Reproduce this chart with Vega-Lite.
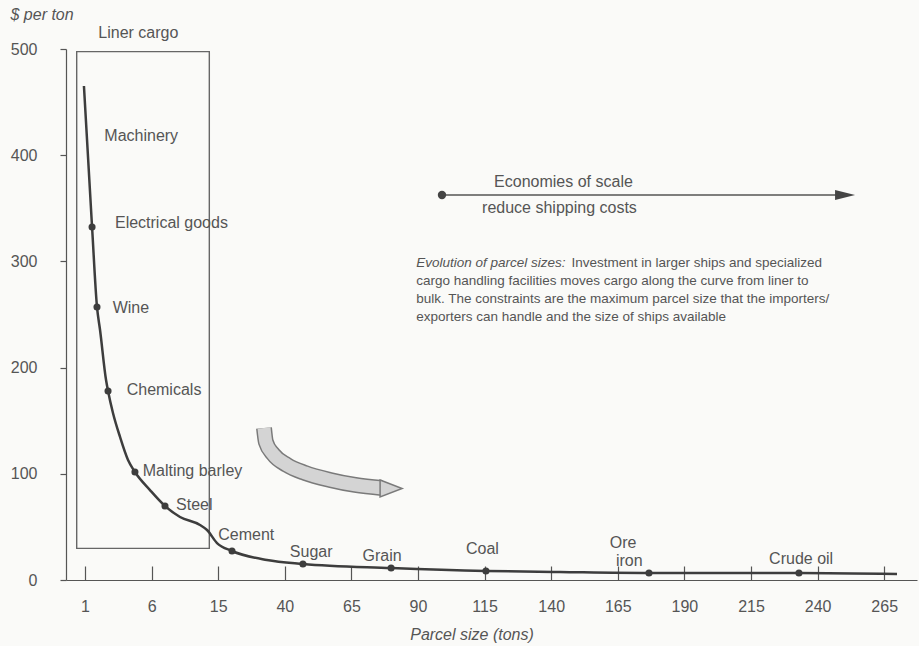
{
  "$schema": "https://vega.github.io/schema/vega-lite/v6.json",
  "width": 851,
  "height": 531,
  "autosize": {"type": "none"},
  "padding": {"left": 66, "top": 49, "right": 2, "bottom": 66},
  "background": "#fafaf8",
  "config": {"view": {"stroke": null}, "font": "Liberation Sans"},
  "datasets": {
    "curve": [
      {"x": 0.92, "y": 465.2}, {"x": 1.53, "y": 332.4}, {"x": 1.90, "y": 257.1}, {"x": 2.13, "y": 235.4},
      {"x": 2.58, "y": 188.3}, {"x": 2.73, "y": 178.0}, {"x": 3.10, "y": 157.3}, {"x": 3.63, "y": 134.7},
      {"x": 4.23, "y": 113.0}, {"x": 4.75, "y": 101.7}, {"x": 5.88, "y": 84.7}, {"x": 7.81, "y": 69.7},
      {"x": 9.84, "y": 59.3}, {"x": 12.54, "y": 51.8}, {"x": 13.49, "y": 47.1}, {"x": 14.84, "y": 34.8},
      {"x": 20.18, "y": 27.3}, {"x": 33.3, "y": 18.8}, {"x": 46.8, "y": 15.1}, {"x": 79.9, "y": 11.3},
      {"x": 115.5, "y": 8.5}, {"x": 143.3, "y": 7.5}, {"x": 176.7, "y": 6.6}, {"x": 233.0, "y": 6.6},
      {"x": 269.8, "y": 5.6}
    ],
    "dots": [
      {"x": 1.53, "y": 332.4}, {"x": 1.90, "y": 257.1}, {"x": 2.73, "y": 178.0}, {"x": 4.75, "y": 101.7},
      {"x": 7.81, "y": 69.7}, {"x": 20.18, "y": 27.3}, {"x": 46.8, "y": 15.1}, {"x": 79.9, "y": 11.3},
      {"x": 115.5, "y": 8.5}, {"x": 176.7, "y": 6.6}, {"x": 233.0, "y": 6.6}
    ],
    "labels": [
      {"x": 2.0, "y": 514.8, "label": "Liner cargo"},
      {"x": 2.45, "y": 418.0, "label": "Machinery"},
      {"x": 3.25, "y": 336.4, "label": "Electrical goods"},
      {"x": 3.08, "y": 256.4, "label": "Wine"},
      {"x": 4.13, "y": 178.9, "label": "Chemicals"},
      {"x": 5.33, "y": 102.9, "label": "Malting barley"},
      {"x": 9.3, "y": 70.6, "label": "Steel"},
      {"x": 15.0, "y": 42.4, "label": "Cement"},
      {"x": 41.9, "y": 26.6, "label": "Sugar"},
      {"x": 69.2, "y": 22.6, "label": "Grain"},
      {"x": 108.0, "y": 29.2, "label": "Coal"},
      {"x": 162.0, "y": 34.8, "label": "Ore"},
      {"x": 164.3, "y": 17.9, "label": "iron"},
      {"x": 221.8, "y": 19.8, "label": "Crude oil"}
    ],
    "box": [{"x": 0.375, "x2": 13.8, "y": 29.8, "y2": 497.5}],
    "econLine": [{"x": 99.0, "x2": 250.3, "y": 362.5}],
    "econDot": [{"x": 99.0, "y": 362.5}],
    "econHead": [{"x": 250.3, "y": 362.5}],
    "econText": [
      {"x": 144.6, "y": 375.0, "label": "Economies of scale"},
      {"x": 143.1, "y": 350.3, "label": "reduce shipping costs"}
    ],
    "paraItalic": [{"x": 89.3, "y": 298.5, "label": "Evolution of parcel sizes:"}],
    "paraRegular": [
      {"x": 147.6, "y": 298.5, "label": "Investment in larger ships and specialized"},
      {"x": 89.3, "y": 281.5, "label": "cargo handling facilities moves cargo along the curve from liner to"},
      {"x": 89.3, "y": 264.6, "label": "bulk.  The constraints are the maximum parcel size that the importers/"},
      {"x": 89.3, "y": 247.6, "label": "exporters can handle and the size of ships available"}
    ],
    "bend": [
      {"x": 32.2, "y": 143.1}, {"x": 32.9, "y": 129.9}, {"x": 35.6, "y": 118.6}, {"x": 40.8, "y": 108.3},
      {"x": 47.6, "y": 100.8}, {"x": 57.0, "y": 94.2}, {"x": 66.4, "y": 89.5}, {"x": 76.5, "y": 86.6}
    ],
    "bendHead": [{"x": 79.9, "y": 86.2}]
  },
  "encoding": {
    "x": {
      "field": "x",
      "type": "quantitative",
      "scale": {
        "domain": [-0.43, 1, 6, 15, 40, 65, 90, 115, 140, 165, 190, 215, 240, 265, 277.3],
        "range": [0, 19, 85.6, 152.2, 218.8, 285.4, 352, 418.6, 485.2, 551.8, 618.4, 685, 751.6, 818.2, 851],
        "nice": false,
        "zero": false
      },
      "axis": {
        "values": [1, 6, 15, 40, 65, 90, 115, 140, 165, 190, 215, 240, 265],
        "grid": false,
        "tickSize": -14,
        "labelPadding": 40,
        "labelBaseline": "middle",
        "labelFlush": false,
        "labelOverlap": false,
        "labelFontSize": 16,
        "labelColor": "#555555",
        "tickColor": "#555555",
        "domainColor": "#555555",
        "tickWidth": 1.2,
        "domainWidth": 1.2,
        "title": "Parcel size (tons)",
        "titleFontSize": 16,
        "titleFontStyle": "italic",
        "titleFontWeight": "normal",
        "titleColor": "#555555",
        "titleX": 405.5,
        "titleY": 54,
        "titleBaseline": "middle"
      }
    },
    "y": {
      "field": "y",
      "type": "quantitative",
      "scale": {"domain": [0, 500], "nice": false},
      "axis": {
        "values": [0, 100, 200, 300, 400, 500],
        "grid": false,
        "tickSize": 6,
        "labelPadding": 23,
        "labelFontSize": 16,
        "labelColor": "#555555",
        "tickColor": "#555555",
        "domainColor": "#555555",
        "tickWidth": 1.2,
        "domainWidth": 1.2,
        "title": "$ per ton",
        "titleFontSize": 16,
        "titleFontStyle": "italic",
        "titleFontWeight": "normal",
        "titleColor": "#555555",
        "titleAngle": 0,
        "titleAlign": "left",
        "titleBaseline": "middle",
        "titleX": -56,
        "titleY": -35
      }
    }
  },
  "layer": [
    {
      "data": {"name": "box"},
      "mark": {"type": "rect", "fill": null, "fillOpacity": 0, "stroke": "#666666", "strokeWidth": 1.4},
      "encoding": {"x2": {"field": "x2"}, "y2": {"field": "y2"}}
    },
    {
      "data": {"name": "bend"},
      "mark": {"type": "line", "color": "#7a7a7a", "strokeWidth": 16, "strokeCap": "butt", "interpolate": "monotone"},
      "encoding": {}
    },
    {
      "data": {"name": "bend"},
      "mark": {"type": "line", "color": "#d4d4d4", "strokeWidth": 13, "strokeCap": "butt", "interpolate": "monotone"},
      "encoding": {}
    },
    {
      "data": {"name": "bendHead"},
      "mark": {"type": "point", "shape": "M-1,-0.77L1,0L-1,0.77Z", "size": 484, "filled": true, "fill": "#d4d4d4", "stroke": "#7a7a7a", "strokeWidth": 1.5, "opacity": 1}
    },
    {
      "data": {"name": "curve"},
      "mark": {"type": "line", "color": "#3d3d3d", "strokeWidth": 2.5, "interpolate": "monotone"},
      "encoding": {}
    },
    {
      "data": {"name": "dots"},
      "mark": {"type": "point", "filled": true, "color": "#3d3d3d", "size": 50, "opacity": 1}
    },
    {
      "data": {"name": "labels"},
      "mark": {"type": "text", "align": "left", "baseline": "middle", "fontSize": 16, "color": "#555555"},
      "encoding": {"text": {"field": "label"}}
    },
    {
      "data": {"name": "econLine"},
      "mark": {"type": "rule", "color": "#555555", "strokeWidth": 1.6},
      "encoding": {"x2": {"field": "x2"}}
    },
    {
      "data": {"name": "econDot"},
      "mark": {"type": "point", "filled": true, "color": "#444444", "size": 70, "opacity": 1}
    },
    {
      "data": {"name": "econHead"},
      "mark": {"type": "point", "shape": "M-1,-0.5L1,0L-1,0.5Z", "size": 400, "filled": true, "color": "#444444", "opacity": 1}
    },
    {
      "data": {"name": "econText"},
      "mark": {"type": "text", "align": "center", "baseline": "middle", "fontSize": 16, "color": "#555555"},
      "encoding": {"text": {"field": "label"}}
    },
    {
      "data": {"name": "paraItalic"},
      "mark": {"type": "text", "align": "left", "baseline": "middle", "fontSize": 13.5, "fontStyle": "italic", "color": "#555555"},
      "encoding": {"text": {"field": "label"}}
    },
    {
      "data": {"name": "paraRegular"},
      "mark": {"type": "text", "align": "left", "baseline": "middle", "fontSize": 13.5, "color": "#555555"},
      "encoding": {"text": {"field": "label"}}
    }
  ]
}
